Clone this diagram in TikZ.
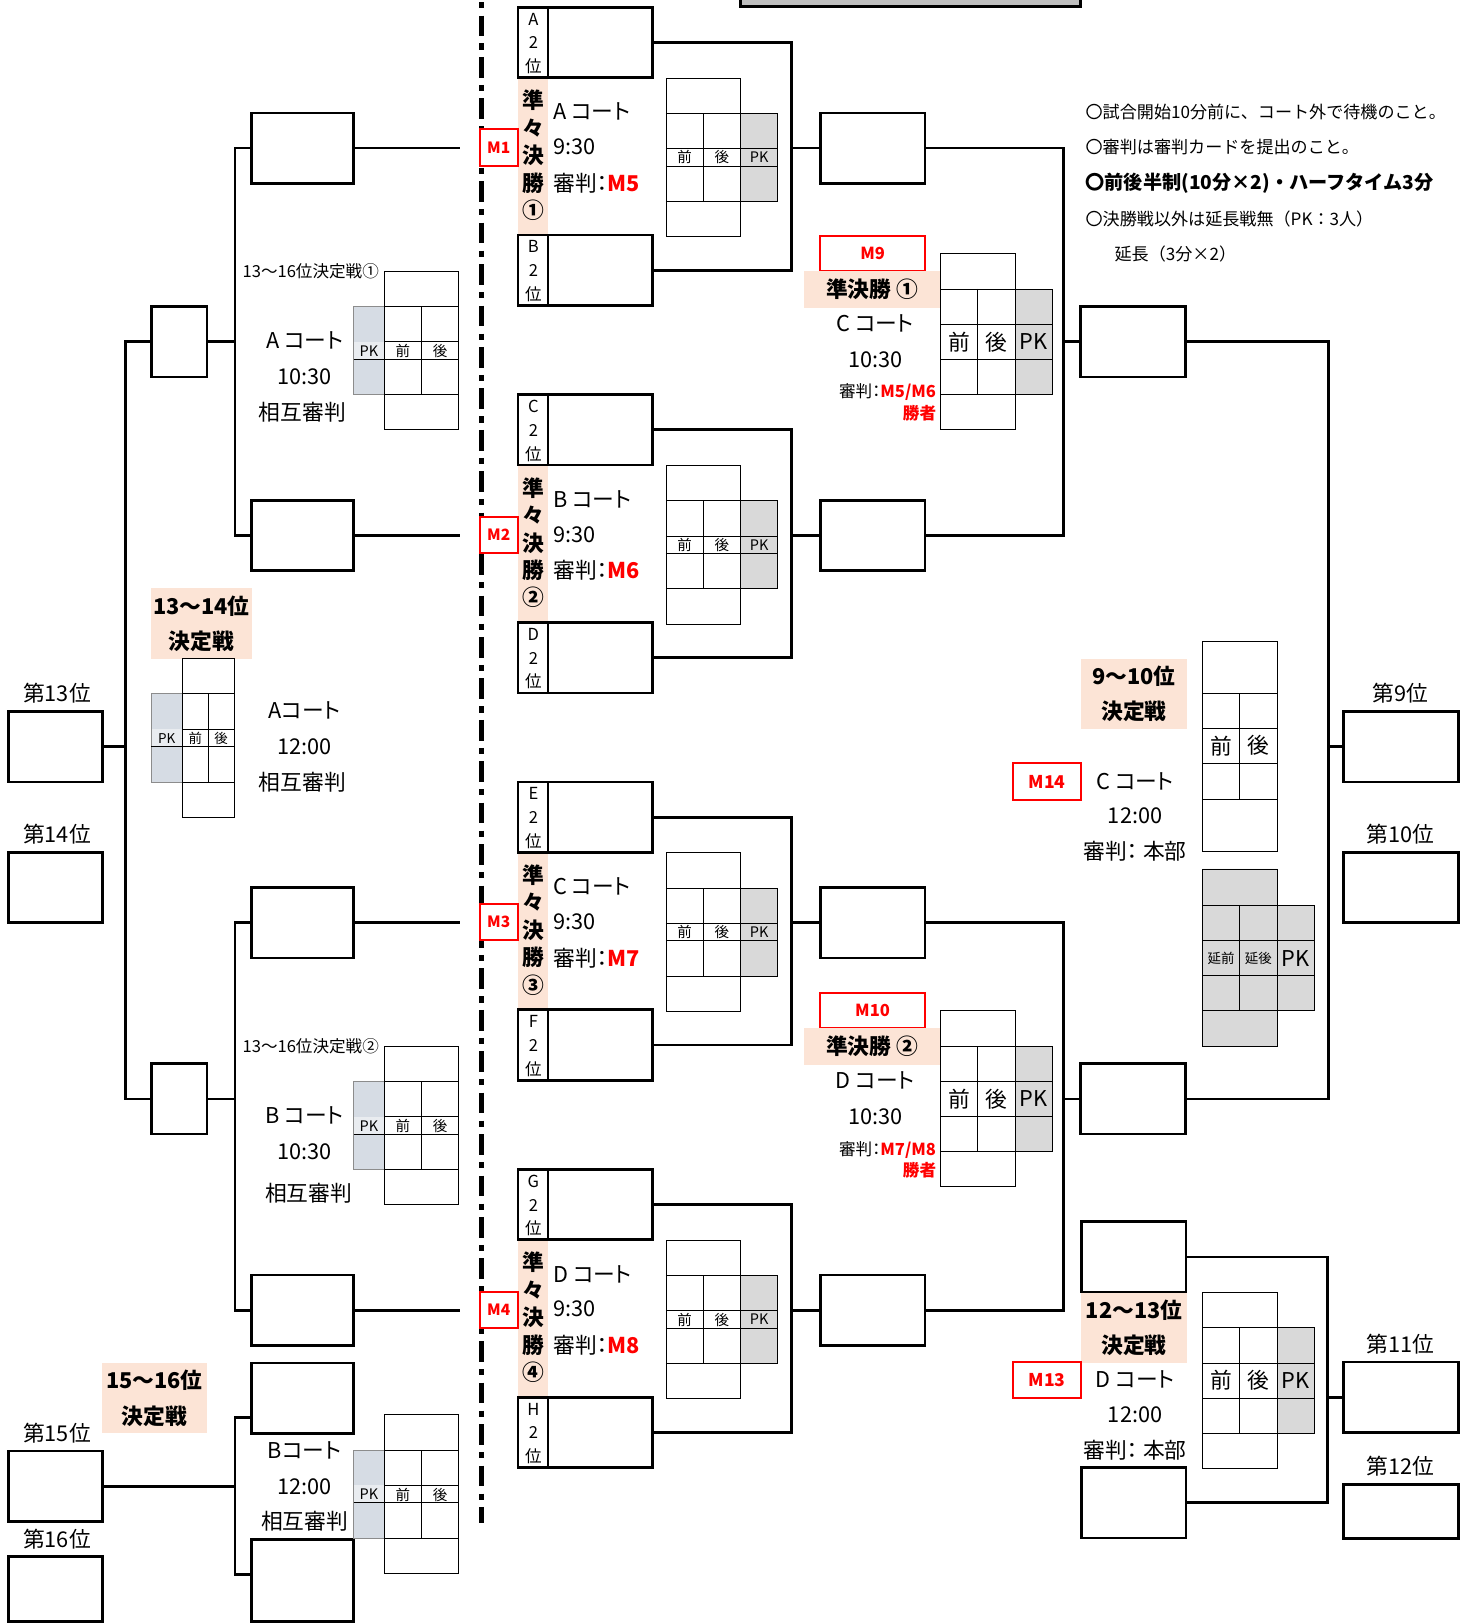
\documentclass[tikz,border=0pt]{standalone}
\usepackage{fontspec}
\setmainfont{Noto Sans CJK JP}[RawFeature=+palt]
\newfontfamily\notefont{Noto Sans CJK JP}
\usetikzlibrary{calc}
\definecolor{peach}{HTML}{FCE4D6}
\definecolor{pkgray}{HTML}{D9D9D9}
\definecolor{pkblue}{HTML}{D6DCE4}
\definecolor{bargray}{HTML}{BFBFBF}
\tikzset{
    slot/.style={draw,line width=2.6pt,minimum width=101pt,minimum height=68pt,inner sep=0pt},
    wire/.style={line width=2.6pt},
    cell/.style={line width=0.9pt},
    mbox/.style={draw=red,line width=2pt,fill=white,text=red,inner sep=0pt,font=\bfseries\fontsize{15}{18}\selectfont},
    txt/.style={inner sep=0pt,font=\fontsize{21}{25}\selectfont},
    small/.style={inner sep=0pt,font=\fontsize{16}{19}\selectfont},
    note/.style={anchor=west,inner sep=0pt,font=\notefont\fontsize{16.5}{20}\selectfont},
    title/.style={fill=peach,inner sep=0pt,align=center,font=\bfseries\fontsize{21}{34}\selectfont},
    pics/pkright/.style 2 args={code={
        \fill[pkgray] (72,34) rectangle (108,{102+#1});
        \draw[cell] (0,0) rectangle (72,{136+#1});
        \draw[cell] (72,34) rectangle (108,{102+#1});
        \draw[cell] (0,34) -- (108,34) (0,68) -- (108,68)
            (0,{68+#1}) -- (108,{68+#1}) (0,{102+#1}) -- (108,{102+#1})
            (36,34) -- (36,{102+#1});
        \node[inner sep=0pt,font=\fontsize{#2}{#2}\selectfont] (-f) at (18,{68+#1/2}) {前};
        \node[inner sep=0pt,font=\fontsize{#2}{#2}\selectfont] (-b) at (54,{68+#1/2}) {後};
        \node[inner sep=0pt,font=\fontsize{#2}{#2}\selectfont] (-pk) at (90,{68+#1/2}) {PK};
    }},
    pics/pkleft/.style n args={3}{code={
        \fill[pkblue] (0,34) rectangle (#1,119);
        \fill[pkblue!55] (0,68) rectangle (#1,85);
        \draw[cell,black!45] (0,34) rectangle (#1,119);
        \draw[cell] (#1,0) rectangle ({#1+2*#2},153);
        \draw[cell] (#1,34) -- ({#1+2*#2},34) (#1,68) -- ({#1+2*#2},68)
            (0,85) -- ({#1+2*#2},85) (#1,119) -- ({#1+2*#2},119)
            ({#1+#2},34) -- ({#1+#2},119);
        \node[inner sep=0pt,font=\fontsize{#3}{#3}\selectfont] (-pk) at ({#1/2},77) {PK};
        \node[inner sep=0pt,font=\fontsize{#3}{#3}\selectfont] (-f) at ({#1+#2/2},77) {前};
        \node[inner sep=0pt,font=\fontsize{#3}{#3}\selectfont] (-b) at ({#1+1.5*#2},77) {後};
    }}
}
\begin{document}
\begin{tikzpicture}[x=1pt,y=-1pt]
\useasboundingbox (0,0) rectangle (1421,1568);

% bar at the top
\draw[wire,fill=bargray] (715,-10) rectangle (1043,6);

% dash-dot divider
\coordinate (dtop) at (465,2);
\coordinate (dbot) at (465,1470);
\draw[line width=5pt,dash pattern=on 6pt off 7pt on 20pt off 7pt] (dtop) -- (dbot);

% 13-16 side
\node[slot,minimum width=98pt] (lf0) at (292,143) {};
\node[slot,minimum width=98pt] (lf1) at (292,517) {};
\node[slot,minimum width=98pt] (lf2) at (292,891) {};
\node[slot,minimum width=98pt] (lf3) at (292,1265) {};
\node[slot,minimum width=54pt] (s13a) at (173,330) {};
\node[slot,minimum width=54pt] (s13b) at (173,1061) {};
\node[slot,minimum width=91pt] (rank13) at (53.5,721) {};
\node[slot,minimum width=91pt] (rank14) at (53.5,857) {};
\node[slot,minimum width=98pt] (lp0) at (292,1350) {};
\node[slot,minimum width=98pt,minimum height=79pt] (lp1) at (292,1526) {};
\node[slot,minimum width=91pt] (rank15) at (53.5,1435) {};
\node[slot,minimum width=91pt,minimum height=63pt] (rank16) at (53.5,1534) {};

\coordinate (ja) at (227,330);
\coordinate (jb) at (227,1061);
\coordinate (jc) at (121,721);
\coordinate (jd) at (227,1435);
\draw[wire] (lf0.west) -| (ja) |- (lf1.west);
\draw[wire] (ja) -- (s13a.east);
\draw[wire] (lf2.west) -| (jb) |- (lf3.west);
\draw[wire] (jb) -- (s13b.east);
\draw[wire] (s13a.west) -| (jc) |- (s13b.west);
\draw[wire] (jc) -- (rank13.east);
\draw[wire] ([yshift=17pt]lp0.south west) -| (jd) |- ([yshift=-35pt]lp1.north west);
\draw[wire] (jd) -- (rank15.east);

\node[txt] (lab13) at (55,669) {第13位};
\node[txt] (lab14) at (55,805) {第14位};
\node[txt] (lab15) at (55,1384) {第15位};
\node[txt] (lab16) at (55,1486) {第16位};

% 13-16 sheets
\node[small] (t1316a) at (300,262) {13〜16位決定戦①};
\pic (g1) at (341.5,262) {pkleft={29.5}{36}{14}};
\node[txt] (c1316a) at (294,329) {A コート};
\node[txt] (h1316a) at (294,364) {10:30};
\node[txt] (r1316a) at (292,398) {相互審判};

\node[small] (t1316b) at (300,1010) {13〜16位決定戦②};
\pic (g2) at (341.5,1010) {pkleft={29.5}{36}{14}};
\node[txt] (c1316b) at (294,1077) {B コート};
\node[txt] (h1316b) at (294,1112) {10:30};
\node[txt] (r1316b) at (298,1152) {相互審判};

\node[title,minimum width=97pt,minimum height=68pt] (t1314) at (194.5,602) {13〜14位\\決定戦};
\pic (g0) at (146,636) {pkleft={30}{25}{13}};
\node[txt] (c1314) at (294,686) {Aコート};
\node[txt] (h1314) at (294,721) {12:00};
\node[txt] (r1314) at (292,755) {相互審判};

\node[title,minimum width=102pt,minimum height=68pt] (t1516) at (149,1350) {15〜16位\\決定戦};
\pic (g3) at (341.5,1366) {pkleft={29.5}{36}{14}};
\node[txt] (c1516) at (294,1400) {Bコート};
\node[txt] (h1516) at (294,1435) {12:00};
\node[txt] (r1516) at (294,1469) {相互審判};

% quarter finals
\foreach \i/\ta/\tb/\crt/\mn/\num/\rf in {0/A/B/A/1/①/M5,1/C/D/B/2/②/M6,2/E/F/C/3/③/M7,3/G/H/D/4/④/M8}{
  \begin{scope}[shift={(0,374*\i)}]
    \fill[peach] (500,75) rectangle (529,227);
    \pic (gq\i) at (643,75.5) {pkright={17}{14}};
    \node[slot,minimum width=130pt] (qt\i) at (565,41) {};
    \node[slot,minimum width=130pt] (qb\i) at (565,261) {};
    \draw[wire] (529,7) -- (529,75) (529,227) -- (529,295);
    \node[align=center,inner sep=0pt,font=\fontsize{16}{23}\selectfont] (qtl\i) at (515,42) {\ta\\2\\位};
    \node[align=center,inner sep=0pt,font=\fontsize{16}{23}\selectfont] (qbl\i) at (515,262) {\tb\\2\\位};
    \node[align=center,inner sep=0pt,font=\bfseries\fontsize{21}{26.5}\selectfont] (qv\i) at (515,150) {準\\々\\決\\勝\\\num};
    \node[mbox,minimum width=37pt,minimum height=35pt] (qm\i) at (481.5,142.5) {M\mn};
    \node[txt,anchor=west] (qc\i) at (534,108) {\crt\ コート};
    \node[txt,anchor=west] (qh\i) at (534,142) {9:30};
    \node[txt,anchor=west] (qr\i) at (534,177) {審判：\textcolor{red}{\bfseries\rf}};
    \node[slot] (qw\i) at (842.5,143) {};
    \coordinate (jq\i) at (764,143);
    \coordinate (e\i) at (444,143);
    \draw[wire] (qt\i.east) -| (jq\i) |- (qb\i.east);
    \draw[wire] (jq\i) -- (qw\i.west);
    \draw[wire] (lf\i.east) -- (e\i);
  \end{scope}
}

% semi finals
\node[slot] (sf1) at (1094,330) {};
\node[slot] (sf2) at (1094,1061) {};
\coordinate (jr1) at (1027,330);
\coordinate (jr2) at (1027,1061);
\draw[wire] (qw0.east) -| (jr1) |- (qw1.east);
\draw[wire] (jr1) -- (sf1.west);
\draw[wire] (qw2.east) -| (jr2) |- (qw3.east);
\draw[wire] (jr2) -- (sf2.west);

\node[mbox,minimum width=101pt,minimum height=34pt,font=\bfseries\fontsize{16}{18}\selectfont] (m9) at (842.5,245) {M9};
\node[title,minimum width=132pt,minimum height=35pt] (sf1t) at (842,279.5) {準決勝 ①};
\node[txt] (sf1c) at (845,312) {C コート};
\node[txt] (sf1h) at (845,347) {10:30};
\node[small,anchor=east] (sf1r) at (904,379) {審判：\textcolor{red}{\bfseries M5/M6}};
\node[small,anchor=east,text=red,font=\bfseries\fontsize{16}{19}\selectfont] (sf1w) at (904,399) {勝者};
\pic (g5) at (908,245) {pkright={34}{21}};

\node[mbox,minimum width=101pt,minimum height=34pt,font=\bfseries\fontsize{16}{18}\selectfont] (m10) at (842.5,976) {M10};
\node[title,minimum width=132pt,minimum height=35pt] (sf2t) at (842,1010.5) {準決勝 ②};
\node[txt] (sf2c) at (845,1043) {D コート};
\node[txt] (sf2h) at (845,1078) {10:30};
\node[small,anchor=east] (sf2r) at (904,1110) {審判：\textcolor{red}{\bfseries M7/M8}};
\node[small,anchor=east,text=red,font=\bfseries\fontsize{16}{19}\selectfont] (sf2w) at (904,1130) {勝者};
\pic (g6) at (908,976) {pkright={34}{21}};

% 9-10
\node[slot,minimum width=111pt] (rank9) at (1352.5,721) {};
\node[slot,minimum width=111pt] (rank10) at (1352.5,857) {};
\coordinate (jf) at (1283,721);
\draw[wire] (sf1.east) -| (jf) |- (sf2.east);
\draw[wire] (jf) -- (rank9.west);
\node[txt] (lab9) at (1352,669) {第9位};
\node[txt] (lab10) at (1352,805) {第10位};

\node[title,minimum width=102pt,minimum height=68pt] (t910) at (1095,670) {9〜10位\\決定戦};
\node[mbox,minimum width=66pt,minimum height=35pt,font=\bfseries\fontsize{17}{19}\selectfont] (m14) at (1011,754.5) {M14};
\node[txt] (c910) at (1096,754) {C コート};
\node[txt] (h910) at (1096,788) {12:00};
\node[txt] (r910) at (1096,822) {審判： 本部};

\draw[cell] (1161,619) rectangle (1233,822);
\draw[cell] (1161,670) -- (1233,670) (1161,703) -- (1233,703) (1161,737) -- (1233,737)
    (1161,772) -- (1233,772) (1197,670) -- (1197,772);
\node[txt] (f910) at (1179,720) {前};
\node[txt] (b910) at (1215,720) {後};

% extra time sheet
\fill[pkgray] (1161,839) rectangle (1233,1010) (1233,874) rectangle (1269,976);
\draw[cell] (1161,839) rectangle (1233,1010) (1233,874) rectangle (1269,976);
\draw[cell] (1161,874) -- (1233,874) (1161,908) -- (1269,908) (1161,942) -- (1269,942)
    (1161,976) -- (1233,976) (1197,874) -- (1197,976);
\node[inner sep=0pt,font=\fontsize{13}{15}\selectfont] (xf) at (1179,925) {延前};
\node[inner sep=0pt,font=\fontsize{13}{15}\selectfont] (xb) at (1215,925) {延後};
\node[txt] (xpk) at (1251,925) {PK};

% 12-13
\node[slot] (u12) at (1094.5,1213.5) {};
\node[slot] (d12) at (1094.5,1451) {};
\node[slot,minimum width=111pt] (rank11) at (1352.5,1349) {};
\node[slot,minimum width=111pt,minimum height=52pt] (rank12) at (1352.5,1459.5) {};
\coordinate (jg) at (1282,1349);
\draw[wire] (u12.east) -| (jg) |- (d12.east);
\draw[wire] (jg) -- (rank11.west);
\node[txt] (lab11) at (1352,1298) {第11位};
\node[txt] (lab12) at (1352,1416) {第12位};

\node[title,minimum width=102pt,minimum height=68pt] (t1213) at (1095,1282) {12〜13位\\決定戦};
\node[mbox,minimum width=66pt,minimum height=35pt,font=\bfseries\fontsize{17}{19}\selectfont] (m13) at (1011,1332.5) {M13};
\node[txt] (c1213) at (1096,1332) {D コート};
\node[txt] (h1213) at (1096,1366) {12:00};
\node[txt] (r1213) at (1096,1400) {審判： 本部};
\pic (g7) at (1161,1248) {pkright={34}{21}};

% notes
\node[note] (n1) at (1048,108) {〇試合開始10分前に、コート外で待機のこと。};
\node[note] (n2) at (1048,142) {〇審判は審判カードを提出のこと。};
\node[note,font=\notefont\bfseries\fontsize{18.5}{20}\selectfont] (n3) at (1048,177) {〇前後半制(10分×2)・ハーフタイム3分};
\node[note] (n4) at (1048,211) {〇決勝戦以外は延長戦無（PK：3人）};
\node[note] (n5) at (1076,245) {延長（3分×2）};

\end{tikzpicture}
\end{document}
